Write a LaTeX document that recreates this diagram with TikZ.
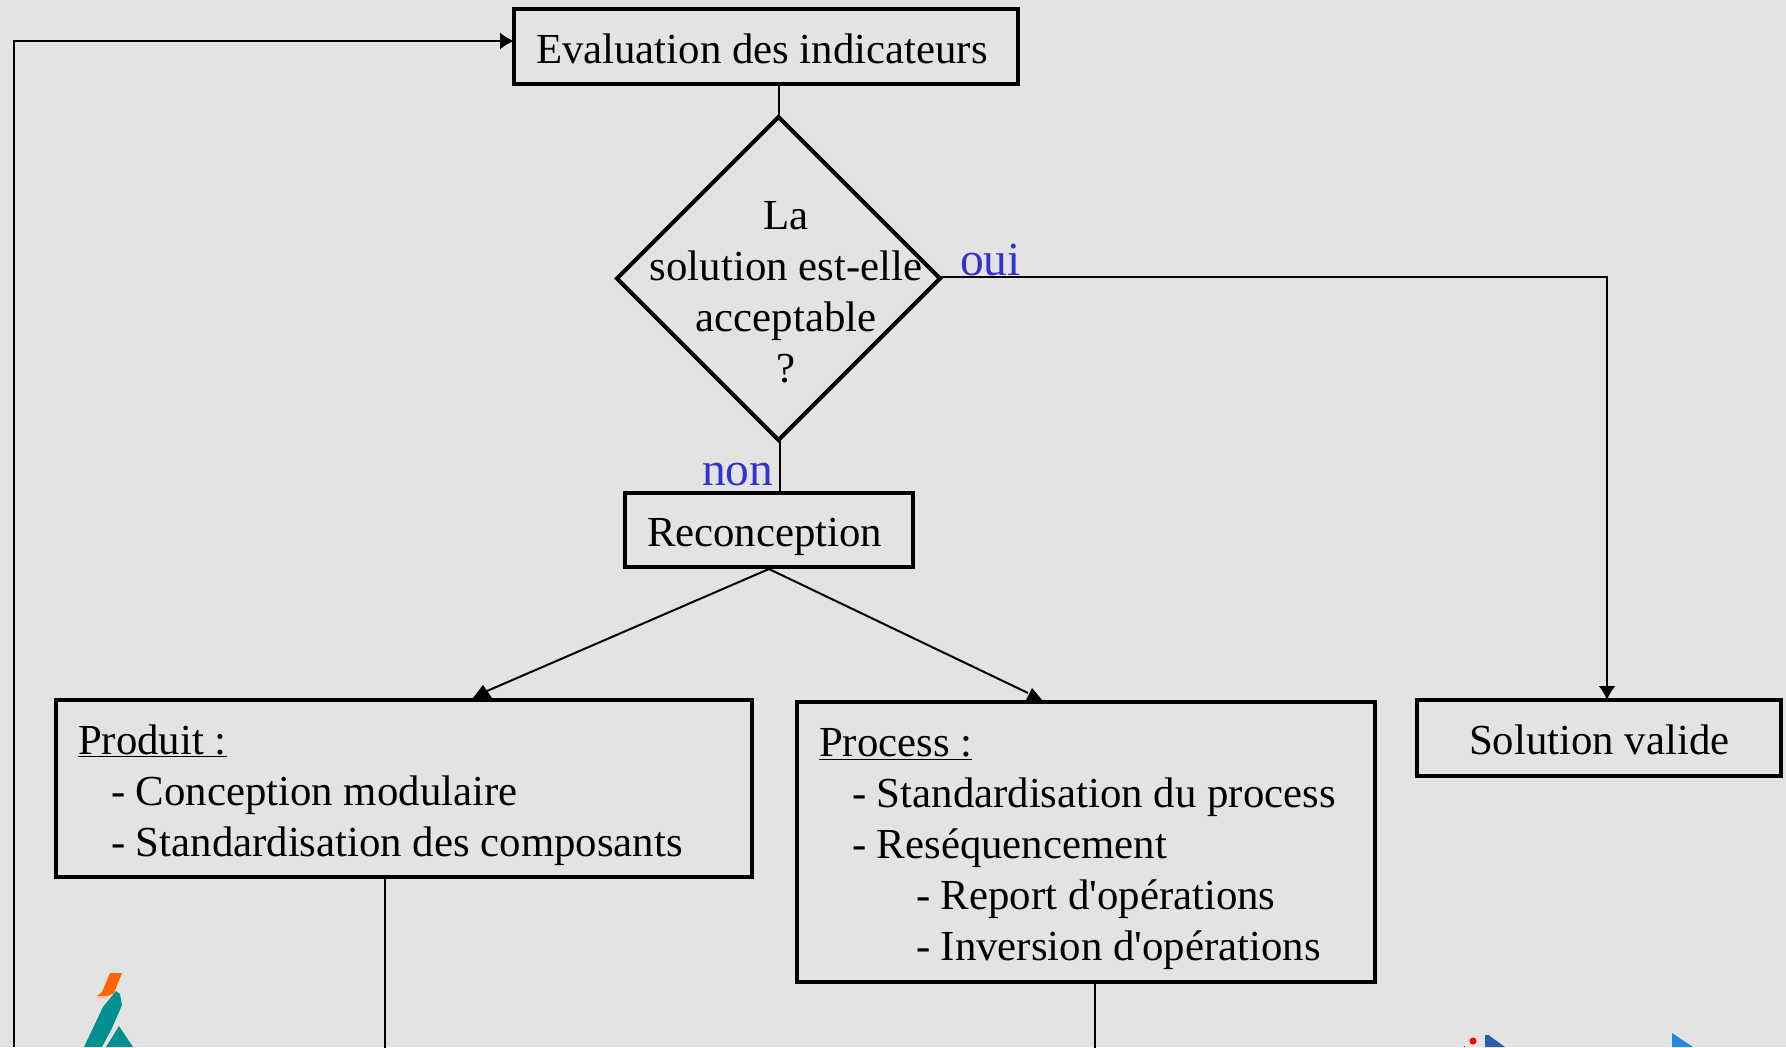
\documentclass[tikz,border=0pt]{standalone}
\usepackage{fontspec}
\setmainfont{Liberation Serif}
\usepackage{xcolor}
\usetikzlibrary{arrows.meta, calc, positioning, shapes.geometric}
\definecolor{pagegray}{HTML}{E3E3E3}
\definecolor{answerblue}{HTML}{3333CC}
\definecolor{logoteal}{HTML}{009090}
\definecolor{logoorange}{HTML}{FF6600}
\definecolor{logoblue}{HTML}{2A60A8}
\definecolor{logosky}{HTML}{2386E2}
\tikzset{
  box/.style={draw, line width=4pt, inner xsep=22pt, inner ysep=0pt, align=flush left, anchor=north west, font=\fontsize{42.8}{51}\selectfont, execute at begin node={\rule[-9.3pt]{0pt}{52.3pt}}},
  decision/.style={draw, diamond, line width=4pt, inner sep=0pt, outer sep=0pt, shape aspect=1, minimum width=323pt, minimum height=323pt},
  plaintext/.style={align=center, inner sep=0pt, font=\fontsize{42.8}{51}\selectfont},
  answer/.style={text=answerblue, inner sep=0pt, anchor=base west, font=\fontsize{47.5}{51}\selectfont},
  link/.style={line width=2pt},
  arrowlink/.style={line width=2pt, -{Latex[length=14pt,width=17pt]}}
}
\begin{document}
\begin{tikzpicture}[x=1pt,y=-1pt]
\useasboundingbox (0,0) rectangle (1786,1047);
\fill[pagegray] (0,0) rectangle (1786,1047);

% Boxes
\node[box, text width=460pt, minimum height=75pt] (eval) at (512,7) {Evaluation des indicateurs};
\node[decision] (dec) at (778.5,278.5) {};
\node[plaintext] (dectext) at (786,292) {La\\solution est-elle\\acceptable\\?};
\node[box, text width=244pt, minimum height=74pt] (reco) at (623,491) {Reconception};
\node[box, text width=652pt, minimum height=177pt] (prod) at (54,698) {\underline{Produit :}\\
  \hspace*{33pt}- Conception modulaire\\
  \hspace*{33pt}- Standardisation des composants};
\node[box, text width=534pt, minimum height=280pt] (proc) at (795,700) {\underline{Process :}\\
  \hspace*{33pt}- Standardisation du process\\
  \hspace*{33pt}- Reséquencement\\
  \hspace*{97pt}- Report d\textquotesingle opérations\\
  \hspace*{97pt}- Inversion d\textquotesingle opérations};
\node[box, text width=320pt, minimum height=76pt] (sol) at (1415,698) {\hspace*{30pt}Solution valide};

% Answers
\node[answer] (oui) at (960,275) {oui};
\node[answer] (non) at (702,485) {non};

% Connectors
\draw[link] (eval.south -| dec.north) -- (dec.north);
\draw[link] ([xshift=1.5pt]dec.south) -- ([xshift=1.5pt]dec.south |- reco.north);
\draw[arrowlink] ([yshift=1.5pt]dec.east) -| ([xshift=8pt,yshift=-2pt]sol.north);
\draw[link] (reco.south) -- ([shift={(83pt,7pt)}]prod.north);
\draw[link] (reco.south) -- ([shift={(-58pt,7pt)}]proc.north);
\draw[link] ([xshift=-19pt]prod.south) -- ++(0,175);
\draw[link] ([xshift=9pt]proc.south) -- ++(0,70);
\coordinate (loopend) at (14,1047);
\draw[arrowlink] (loopend) |- ([xshift=2pt,yshift=5.5pt]eval.west);

% Arrowheads standing on the boxes
\fill ([shift={(69pt,0pt)}]prod.north) -- ([shift={(79pt,13pt)}]prod.north) -- ([shift={(88pt,0pt)}]prod.north) -- cycle;
\fill ([shift={(-60pt,0pt)}]proc.north) -- ([shift={(-54pt,12pt)}]proc.north) -- ([shift={(-44pt,0pt)}]proc.north) -- cycle;

% Logo left
\fill[logoorange] (110,973) -- (122,973) -- (114,993) -- (108,996) -- (97,996) -- (102,992) -- cycle;
\fill[logoorange!35] (97,996) rectangle (108,999);
\fill[logoteal] (116,991) -- (120,994) -- (122,1005) -- (112,1028) -- (102,1047) -- (84,1047) -- (103,1007) -- cycle;
\fill[logoteal] (119,1026) -- (133,1047) -- (106,1047) -- cycle;

% Logo right
\fill[red] (1473,1041) circle (3.5pt);
\fill[red] (1463.5,1046) rectangle (1465,1047);
\fill[logoblue] (1485,1035) -- (1488.5,1035) -- (1505,1047) -- (1485,1047) -- cycle;
\fill[logosky] (1672,1033) -- (1693,1047) -- (1672,1047) -- cycle;
\end{tikzpicture}
\end{document}
